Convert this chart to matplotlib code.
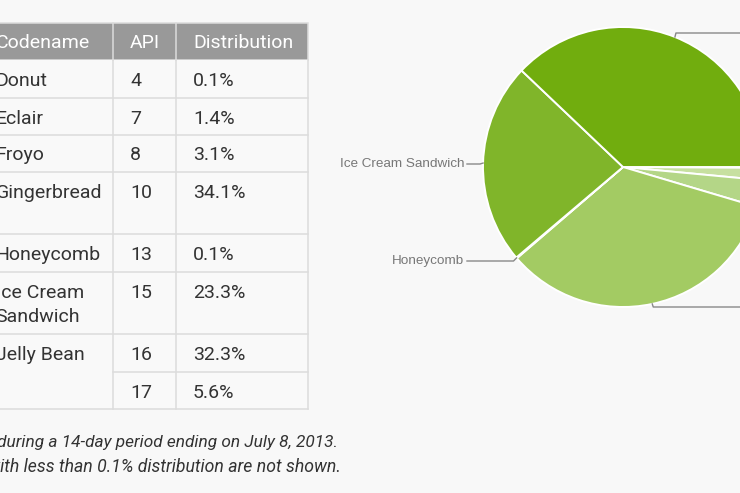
import numpy as np
import matplotlib.pyplot as plt
import matplotlib.patches as mpatches

# table data (Android platform versions, July 2013)
codenames = ['Donut', 'Eclair', 'Froyo', 'Gingerbread', 'Honeycomb',
             'Ice Cream\nSandwich', 'Jelly Bean']
api_levels = [['4'], ['7'], ['8'], ['10'], ['13'], ['15'], ['16', '17']]
distribution = [[0.1], [1.4], [3.1], [34.1], [0.1], [23.3], [32.3, 5.6]]
headers = ['Codename', 'API', 'Distribution']

# pie data
pie_names = ['Donut', 'Eclair', 'Froyo', 'Gingerbread', 'Honeycomb',
             'Ice Cream Sandwich', 'Jelly Bean']
pie_share = [sum(d) for d in distribution]
pie_colors = ['#d9eabd', '#c7e0a0', '#b4d687', '#a3cb63',
              '#93c24a', '#80b52a', '#71ad0e']

footnote = ['Data collected during a 14-day period ending on July 8, 2013.',
            'Versions with less than 0.1% distribution are not shown.']

W, H = 740, 493
BG = '#f8f8f8'
GRID = '#dcdcdc'
TXT = '#333333'

fig = plt.figure(figsize=(W / 100, H / 100), dpi=100, facecolor=BG)
ax = fig.add_axes([0, 0, 1, 1])
ax.set_facecolor(BG)

# ---- pie ----
cx, cy, r = 623, 167, 140
wedges, _ = ax.pie(pie_share, colors=pie_colors, center=(cx, cy), radius=r,
                   startangle=0, counterclock=True,
                   wedgeprops=dict(edgecolor='white', linewidth=1.4))
# pixel coords, y pointing down
ax.set_xlim(0, W)
ax.set_ylim(H, 0)
ax.set_aspect('auto')
ax.axis('off')

lbl_font = dict(family=['Liberation Sans', 'DejaVu Sans'], fontsize=9.7, color='#777777')
left_labels = {'Ice Cream Sandwich': 164, 'Honeycomb': 261}
right_labels = {'Jelly Bean': 33, 'Gingerbread': 307}
for w, name in zip(wedges, pie_names):
    mid = np.deg2rad((w.theta1 + w.theta2) / 2)
    ex, ey = cx + r * np.cos(mid), cy + r * np.sin(mid)
    if name in left_labels:
        ly = left_labels[name]
        ax.plot([467, ex - 3, ex], [ly, ly, ey], color='#888888', lw=1.0)
        ax.text(464, ly, name, ha='right', va='center', **lbl_font)
    elif name in right_labels:
        ly = right_labels[name]
        ax.plot([ex, ex + 1, W + 5], [ey, ly, ly], color='#888888', lw=1.0)

# ---- table ----
col_x = [-14, 113, 176, 308]
text_x = [-4.5, 130, 193]
head_top, head_bot = 23, 60
sub_h = [[38], [37], [37], [62], [38], [62], [38, 37]]

ax.add_patch(mpatches.Rectangle((col_x[0], head_top), col_x[-1] - col_x[0],
                                head_bot - head_top, facecolor='#999999',
                                edgecolor=GRID, lw=1.1))
for x in col_x[1:-1]:
    ax.plot([x, x], [head_top, head_bot], color=GRID, lw=1.1)
tfont = dict(family=['Roboto', 'DejaVu Sans'], fontsize=14)
for x, h in zip(text_x, headers):
    ax.text(x, (head_top + head_bot) / 2 + 1, h, color='white', va='center', **tfont)

y = head_bot
for name, apis, dists, hs in zip(codenames, api_levels, distribution, sub_h):
    top = y
    total = sum(hs)
    ax.add_patch(mpatches.Rectangle((col_x[0], top), col_x[-1] - col_x[0], total,
                                    facecolor='#f9f9f9', edgecolor='none'))
    for i, part in enumerate(name.split('\n')):
        ax.text(text_x[0], top + 20.5 + 25 * i, part, color=TXT, va='center', **tfont)
    sy = top
    for i, (a, d, h) in enumerate(zip(apis, dists, hs)):
        ax.text(text_x[1], sy + 20.5, a, color=TXT, va='center', **tfont)
        ax.text(text_x[2], sy + 20.5, f'{d}%', color=TXT, va='center', **tfont)
        if i > 0:
            ax.plot([col_x[1], col_x[-1]], [sy, sy], color=GRID, lw=1.1)
        sy += h
    y = top + total
    ax.plot([col_x[0], col_x[-1]], [y, y], color=GRID, lw=1.1)

for x in col_x:
    ax.plot([x, x], [head_bot, y], color=GRID, lw=1.1)

# footnote
ffont = dict(family=['Roboto', 'DejaVu Sans'], style='italic', color=TXT)
ax.text(338, 442, footnote[0], ha='right', va='center', fontsize=12.45, **ffont)
ax.text(341, 467, footnote[1], ha='right', va='center', fontsize=12.7, **ffont)

fig.savefig('out.png', dpi=100, facecolor=BG)
